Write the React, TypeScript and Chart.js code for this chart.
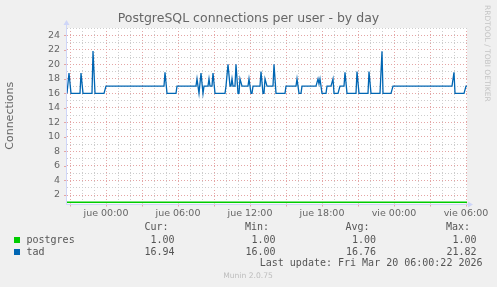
import React, { useEffect, useRef } from 'react';
import { Chart, registerables } from 'chart.js';

Chart.register(...registerables);

const chartTitle = 'PostgreSQL connections per user - by day';
const yAxisTitle = 'Connections';
const sideText = 'RRDTOOL / TOBI OETIKER';
const lastUpdate = 'Last update: Fri Mar 20 06:00:22 2026';
const footerText = 'Munin 2.0.75';

// minutes since "jue 00:00"
const xStart = -195;
const xEnd = 1805;
const xTickMinutes = [0, 360, 720, 1080, 1440, 1800];
const xTickLabels = ['jue 00:00', 'jue 06:00', 'jue 12:00', 'jue 18:00', 'vie 00:00', 'vie 06:00'];
const yMin = 0.83;
const yMax = 25;
const yTickValues = [2, 4, 6, 8, 10, 12, 14, 16, 18, 20, 22, 24];

const postgresTimes = [-195, 1805];
const postgresValues = [1, 1];

const tadTimes = [
  -195, -185, -175, -130, -125, -115, -70, -65, -55, -10,
  0, 290, 295, 305, 350, 355, 450, 455, 465, 475,
  485, 490, 510, 515, 520, 530, 535, 545, 595, 600,
  610, 620, 625, 630, 635, 645, 650, 660, 665, 670,
  680, 710, 715, 725, 730, 735, 770, 775, 785, 790,
  795, 805, 835, 840, 850, 895, 900, 950, 955, 965,
  975, 980, 1050, 1060, 1065, 1070, 1080, 1100, 1105, 1125,
  1135, 1140, 1160, 1170, 1190, 1195, 1205, 1250, 1255, 1265,
  1310, 1315, 1325, 1370, 1380, 1385, 1425, 1435, 1730, 1740,
  1745, 1790, 1800, 1805,
];
const tadValues = [
  16, 18.8, 16, 16, 18.8, 16, 16, 21.82, 16, 16,
  17, 17, 18.9, 16, 16, 17, 17, 18, 16, 18.8,
  16, 17, 17, 18, 17, 17, 18.8, 16, 16, 17,
  20, 17, 17, 18, 17, 17, 20, 16, 16, 18,
  17, 17, 18, 16, 16, 17, 17, 19, 16, 16,
  18, 17, 17, 20, 16, 16, 17, 17, 18, 16,
  16, 17, 17, 18, 17.3, 18, 16, 16, 17, 17,
  18, 16, 16, 17, 17, 18.9, 16, 16, 19, 16,
  16, 19, 16, 16, 21.8, 16, 16, 17, 17, 18.9,
  16, 16, 17, 17,
];

const seriesNames = ['postgres', 'tad'];
const seriesColors = ['#00cc00', '#0066b3'];
const curValues = [1.0, 16.94];
const minValues = [1.0, 16.0];
const avgValues = [1.0, 16.76];
const maxValues = [1.0, 21.82];
const statHeaders = ['Cur:', 'Min:', 'Avg:', 'Max:'];

const MAJOR = 'rgb(228,165,165)';
const MINOR = 'rgb(205,205,205)';
const AXIS = '#cfd6f8';
const FONT_COLOR = '#666666';

const muninPlugin = {
  id: 'muninDecor',
  beforeDraw(chart: any) {
    const { ctx, chartArea: a, width, height } = chart;
    ctx.save();
    ctx.fillStyle = '#f0f0f0';
    ctx.fillRect(0, 0, width, height);
    ctx.fillStyle = '#ffffff';
    ctx.fillRect(a.left, a.top, a.right - a.left, a.bottom - a.top);
    ctx.restore();
  },
  beforeDatasetsDraw(chart: any) {
    const { ctx, chartArea: a, scales } = chart;
    ctx.save();
    // small tick marks
    ctx.strokeStyle = MAJOR;
    ctx.lineWidth = 1;
    for (let m = -180; m <= 1800; m += 180) {
      const px = Math.round(scales.x.getPixelForValue(m)) + 0.5;
      ctx.beginPath();
      ctx.moveTo(px, a.bottom);
      ctx.lineTo(px, a.bottom + 3);
      ctx.stroke();
    }
    for (const v of yTickValues) {
      const py = Math.round(scales.y.getPixelForValue(v)) + 0.5;
      ctx.beginPath();
      ctx.moveTo(a.left - 3, py);
      ctx.lineTo(a.left, py);
      ctx.stroke();
    }
    // axes
    ctx.strokeStyle = AXIS;
    const bx = Math.round(a.left) - 0.5;
    const by = Math.round(a.bottom) + 0.5;
    ctx.beginPath();
    ctx.moveTo(bx, by);
    ctx.lineTo(a.right + 3, by);
    ctx.moveTo(bx, by);
    ctx.lineTo(bx, a.top - 3);
    ctx.stroke();
    ctx.fillStyle = AXIS;
    ctx.beginPath();
    ctx.moveTo(a.right + 1, by - 3);
    ctx.lineTo(a.right + 6, by);
    ctx.lineTo(a.right + 1, by + 3);
    ctx.closePath();
    ctx.fill();
    ctx.beginPath();
    ctx.moveTo(bx - 3, a.top - 3);
    ctx.lineTo(bx, a.top - 8);
    ctx.lineTo(bx + 3, a.top - 3);
    ctx.closePath();
    ctx.fill();
    ctx.restore();
  },
  afterDraw(chart: any) {
    const { ctx } = chart;
    ctx.save();
    // title
    ctx.fillStyle = FONT_COLOR;
    ctx.font = '12.5px "DejaVu Sans"';
    ctx.textAlign = 'center';
    ctx.textBaseline = 'middle';
    ctx.fillText(chartTitle, 248.5, 19);

    // side text
    ctx.save();
    ctx.translate(487, 5);
    ctx.rotate(Math.PI / 2);
    ctx.fillStyle = '#c4c4c4';
    ctx.font = '7.5px "DejaVu Sans"';
    ctx.textAlign = 'left';
    ctx.textBaseline = 'middle';
    ctx.fillText(sideText, 0, 0);
    ctx.restore();

    // stats table
    ctx.font = '10px "DejaVu Sans Mono"';
    ctx.fillStyle = '#555555';
    ctx.textBaseline = 'middle';
    ctx.textAlign = 'right';
    const headerRight = [168.5, 269, 369.5, 470];
    const valueRight = [174.5, 275.5, 376, 476.5];
    statHeaders.forEach((h, i) => ctx.fillText(h, headerRight[i], 227.5));
    const rowY = [240, 252];
    seriesNames.forEach((name, r) => {
      ctx.fillStyle = seriesColors[r];
      ctx.fillRect(14, rowY[r] - 3, 6, 6);
      ctx.fillStyle = '#555555';
      ctx.textAlign = 'left';
      ctx.fillText(name, 26.5, rowY[r]);
      ctx.textAlign = 'right';
      const vals = [curValues[r], minValues[r], avgValues[r], maxValues[r]];
      vals.forEach((v, i) => ctx.fillText(v.toFixed(2), valueRight[i], rowY[r]));
    });
    ctx.fillText(lastUpdate, 482.5, 263.5);

    // footer
    ctx.fillStyle = '#bdbdbd';
    ctx.font = '7.6px "DejaVu Sans"';
    ctx.textAlign = 'center';
    ctx.fillText(footerText, 248, 276);
    ctx.restore();
  },
};

export default function App() {
  const ref = useRef<HTMLCanvasElement | null>(null);

  useEffect(() => {
    document.body.style.margin = '0';
    const canvas = ref.current;
    if (!canvas) return;
    Chart.defaults.font.family = '"DejaVu Sans"';

    const chart = new Chart(canvas, {
      type: 'line',
      data: {
        datasets: [
          {
            label: seriesNames[0],
            data: postgresTimes.map((t, i) => ({ x: t, y: postgresValues[i] })),
            borderColor: seriesColors[0],
            borderWidth: 1.4,
            pointRadius: 0,
            tension: 0,
            fill: false,
          },
          {
            label: seriesNames[1],
            data: tadTimes.map((t, i) => ({ x: t, y: tadValues[i] })),
            borderColor: seriesColors[1],
            borderWidth: 1.3,
            pointRadius: 0,
            tension: 0,
            fill: false,
          },
        ],
      },
      options: {
        animation: false,
        responsive: false,
        devicePixelRatio: 1,
        layout: { padding: { left: 0, right: 30, top: 28, bottom: 0 } },
        plugins: {
          legend: { display: false },
          tooltip: { enabled: false },
          title: { display: false },
        },
        scales: {
          x: {
            type: 'linear',
            min: xStart,
            max: xEnd,
            afterBuildTicks: (scale: any) => {
              const t = [];
              for (let m = -180; m <= 1800; m += 60) t.push({ value: m });
              scale.ticks = t;
            },
            afterFit: (scale: any) => {
              scale.height = 83.5;
            },
            ticks: {
              autoSkip: false,
              maxRotation: 0,
              padding: 4,
              color: FONT_COLOR,
              font: { size: 9.5, family: '"DejaVu Sans"' },
              callback: (value: any) => {
                const idx = xTickMinutes.indexOf(Number(value));
                return idx >= 0 ? xTickLabels[idx] : '';
              },
            },
            grid: {
              drawTicks: false,
              color: (ctx: any) => (ctx.tick && ctx.tick.value % 180 === 0 ? MAJOR : MINOR),
              lineWidth: 1,
            },
            border: { display: false, dash: [1, 2] },
          },
          y: {
            type: 'linear',
            min: yMin,
            max: yMax,
            afterBuildTicks: (scale: any) => {
              const t = [];
              for (let v = 1; v <= 25; v++) t.push({ value: v });
              scale.ticks = t;
            },
            afterFit: (scale: any) => {
              scale.width = 67;
            },
            title: {
              display: true,
              text: yAxisTitle,
              color: FONT_COLOR,
              font: { size: 11, family: '"DejaVu Sans"' },
              padding: { top: 3.4, bottom: 0 },
            },
            ticks: {
              autoSkip: false,
              padding: 7,
              color: FONT_COLOR,
              font: { size: 9.5, family: '"DejaVu Sans"' },
              callback: (value: any) => (yTickValues.indexOf(Number(value)) >= 0 ? String(value) : ''),
            },
            grid: {
              drawTicks: false,
              color: (ctx: any) => (ctx.tick && ctx.tick.value % 2 === 0 ? MAJOR : MINOR),
              lineWidth: 1,
            },
            border: { display: false, dash: [1, 2] },
          },
        },
      },
      plugins: [muninPlugin],
    });

    return () => {
      chart.destroy();
    };
  }, []);

  return <canvas ref={ref} width={497} height={287} style={{ display: 'block', width: 497, height: 287 }} />;
}
